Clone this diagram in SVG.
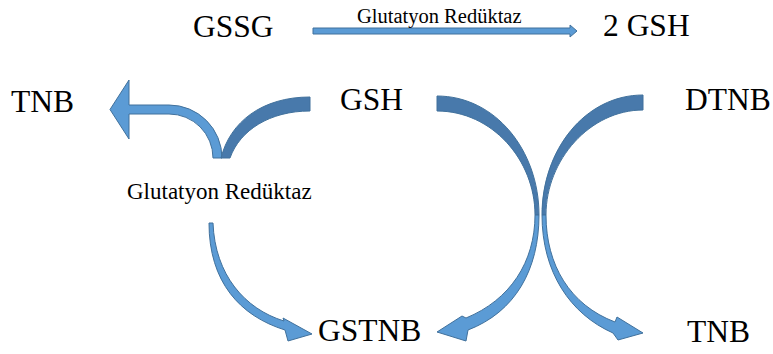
<svg xmlns="http://www.w3.org/2000/svg" width="773" height="354" viewBox="0 0 773 354">
<style>
.t{font-family:"Liberation Serif","Times New Roman",serif;font-size:31.5px;fill:#000}
.lbl{font-family:"Liberation Serif","Times New Roman",serif;fill:#000}
.light{fill:#5b9bd5;stroke:#41719c;stroke-width:1;stroke-linejoin:miter}
.dark{fill:#4879ab;stroke:#41719c;stroke-width:1}
</style>
<rect width="773" height="354" fill="#fff"/>
<g id="connectors">
  <path id="top-arrow" class="light" d="M313,28 L570,28 L570,25 L577,31 L570,37 L570,34 L313,34 Z"/>
  <path id="left-up-arrow" class="light" d="M222,158 A53,53 0 0 0 169,105 L129,105 L129,80 L110,109.5 L129,139 L129,114 L169,114 A44,44 0 0 1 213,158 Z"/>
  <path id="gsh-left-band" class="dark" d="M310,97 C262,97 230,122 221,158 L230,158 C240,130 270,111 310,111 Z"/>
  <path id="lower-left-arrow" class="light" d="M209,223 C209,282 240,316 285,330 L288,341 L312,334 L283,318 L284,321 C245,309 215,275 213,223 Z"/>
  <path id="gsh-right-band" class="dark" d="M437,96 C495,96 539,150 539,215 L535,215 C535,160 492,111 437,111 Z"/>
  <path id="dtnb-band" class="dark" d="M643,95 C585,95 542,150 542,215 L546,215 C546,160 590,110 643,110 Z"/>
  <path id="to-gstnb-arrow" class="light" d="M535,215 C535,262 510,300 466,318 L462,316 L437,332 L466,341 L468,330 C515,312 539,270 539,215 Z"/>
  <path id="to-tnb-arrow" class="light" d="M542,215 C542,272 570,314 613,333 L618,340 L643,333 L617,317 L615,322 C570,305 546,265 546,215 Z"/>
</g>
<g id="label-top"><text class="lbl" x="357" y="23" font-size="20.5">Glutatyon Redüktaz</text></g>
<g id="label-left"><text class="lbl" x="127" y="199" font-size="23">Glutatyon Redüktaz</text></g>
<g id="node-gssg"><text class="t" x="193" y="37">GSSG</text></g>
<g id="node-2gsh"><text class="t" x="603" y="36">2 GSH</text></g>
<g id="node-tnb-left"><text class="t" x="11" y="112">TNB</text></g>
<g id="node-gsh"><text class="t" x="340" y="110">GSH</text></g>
<g id="node-dtnb"><text class="t" x="685" y="110">DTNB</text></g>
<g id="node-gstnb"><text class="t" x="318" y="341">GSTNB</text></g>
<g id="node-tnb-right"><text class="t" x="687" y="342">TNB</text></g>
</svg>
